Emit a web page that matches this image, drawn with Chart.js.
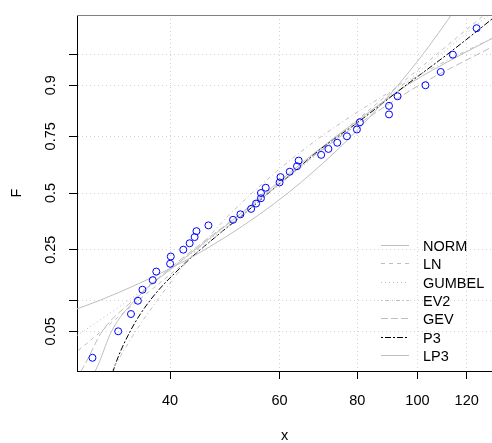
<!DOCTYPE html>
<html>
<head>
<meta charset="utf-8">
<script src="https://cdn.jsdelivr.net/npm/chart.js@4/dist/chart.umd.min.js"></script>
<style>
  html, body { margin: 0; padding: 0; background: #fff; }
  #chart { display: block; }
</style>
</head>
<body>
<canvas id="chart" width="492" height="443"></canvas>
<script>
// observed sample and its plotting positions
const obsX = [30, 33, 34.6, 35.5, 36.1, 37.5, 38, 40, 40.1, 42, 43, 43.8, 44.1, 46.1, 50.5, 51.9, 54, 55, 56, 56,
  57, 60, 60.2, 62.3, 64, 64.4, 70, 71.9, 74.3, 77, 79.9, 80.8, 90, 90, 92.9, 103, 109, 114, 124.5];
const obsF = [0.025, 0.05, 0.075, 0.1, 0.125, 0.15, 0.175, 0.2, 0.225, 0.25, 0.275, 0.3, 0.325, 0.35, 0.375,
  0.4, 0.425, 0.45, 0.475, 0.5, 0.525, 0.55, 0.575, 0.6, 0.625, 0.65, 0.675, 0.7, 0.725, 0.75, 0.775, 0.8,
  0.825, 0.85, 0.875, 0.9, 0.925, 0.95, 0.975];

// fitted curves: quantiles read at these non-exceedance probabilities
const curveF = [0.01, 0.02, 0.05, 0.1, 0.2, 0.3, 0.4, 0.5, 0.6, 0.7, 0.8, 0.9, 0.95, 0.98, 0.99];
const normX = [5.3, 11.9, 21.8, 30.7, 41.4, 49.1, 55.7, 61.9, 68.0, 74.6, 82.3, 93.0, 101.9, 111.8, 118.5];
const lnX = [24.0, 26.6, 31.0, 35.5, 42.0, 47.3, 52.4, 57.6, 63.4, 70.2, 79.1, 93.4, 107.2, 125.0, 138.5];
const gumbelX = [20.6, 23.8, 29.0, 34.2, 41.2, 46.9, 52.3, 57.7, 63.7, 70.8, 80.0, 94.7, 108.8, 127.1, 140.8];
const ev2X = [31.0, 32.6, 35.2, 38.1, 42.3, 46.1, 49.9, 54.2, 59.3, 65.8, 75.6, 94.2, 116.4, 153.1, 188.0];
const gevX = [27.6, 29.1, 31.1, 34.8, 40.8, 46.3, 51.8, 57.3, 63.2, 70.5, 81.2, 100.6, 124.7, 160.0, 190.0];
const p3X = [31.8, 32.6, 34.5, 37.1, 42.2, 47.3, 52.5, 57.6, 63.3, 69.9, 80.2, 95.8, 111.5, 131.0, 145.0];
const lp3X = [29.3, 30.6, 32.2, 35.05, 41.1, 46.6, 51.8, 56.9, 62.6, 69.6, 79.4, 96.2, 117.5, 150.0, 175.0];

const curveNames = ['NORM', 'LN', 'GUMBEL', 'EV2', 'GEV', 'P3', 'LP3'];
const curveXs = [normX, lnX, gumbelX, ev2X, gevX, p3X, lp3X];
const curveColors = ['#bebebe', '#bebebe', '#bebebe', '#bebebe', '#bebebe', '#000000', '#bebebe'];
const curveDashes = [[], [4, 4], [1, 3], [1, 3, 4, 3], [7, 3], [2, 2, 6, 2], []];

// axis ticks
const xTicks = [40, 60, 80, 100, 120];
const yTickProbs = [0.05, 0.1, 0.25, 0.5, 0.75, 0.9, 0.95];
const yTickLabels = ['0.05', '', '0.25', '0.5', '0.75', '0.9', ''];

const FONT = "'Liberation Sans', Arial, sans-serif";

// inverse standard normal (Acklam) for the probability axis
function qnorm(p) {
    const a = [-3.969683028665376e+01, 2.209460984245205e+02, -2.759285104469687e+02, 1.383577518672690e+02, -3.066479806614716e+01, 2.506628277459239e+00];
    const b = [-5.447609879822406e+01, 1.615858368580409e+02, -1.556989798598866e+02, 6.680131188771972e+01, -1.328068155288572e+01];
    const c = [-7.784894002430293e-03, -3.223964580411365e-01, -2.400758277161838e+00, -2.549732539343734e+00, 4.374664141464968e+00, 2.938163982698783e+00];
    const d = [7.784695709041462e-03, 3.224671290700398e-01, 2.445134137142996e+00, 3.754408661907416e+00];
    const pl = 0.02425;
    let q, r;
    if (p < pl) {
        q = Math.sqrt(-2 * Math.log(p));
        return (((((c[0] * q + c[1]) * q + c[2]) * q + c[3]) * q + c[4]) * q + c[5]) / ((((d[0] * q + d[1]) * q + d[2]) * q + d[3]) * q + 1);
    }
    if (p > 1 - pl) {
        q = Math.sqrt(-2 * Math.log(1 - p));
        return -(((((c[0] * q + c[1]) * q + c[2]) * q + c[3]) * q + c[4]) * q + c[5]) / ((((d[0] * q + d[1]) * q + d[2]) * q + d[3]) * q + 1);
    }
    q = p - 0.5;
    r = q * q;
    return (((((a[0] * r + a[1]) * r + a[2]) * r + a[3]) * r + a[4]) * r + a[5]) * q / (((((b[0] * r + b[1]) * r + b[2]) * r + b[3]) * r + b[4]) * r + 1);
}

const curveSets = curveNames.map((name, i) => ({
    type: 'line',
    label: name,
    data: curveXs[i].map((x, j) => ({ x: x, y: qnorm(curveF[j]) })),
    borderColor: curveColors[i],
    borderDash: curveDashes[i],
    borderWidth: 1,
    pointRadius: 0,
    showLine: true,
    fill: false,
    cubicInterpolationMode: 'monotone',
    order: 2
}));

const pointSet = {
    type: 'scatter',
    label: 'obs',
    data: obsX.map((x, i) => ({ x: x, y: qnorm(obsF[i]) })),
    pointStyle: 'circle',
    pointRadius: 3.5,
    pointBorderWidth: 1,
    pointBorderColor: '#0000ff',
    pointBackgroundColor: 'rgba(0,0,0,0)',
    showLine: false,
    order: 1
};

// top frame line and the line-style legend
const framePlugin = {
    id: 'frameAndLegend',
    afterDraw(chart) {
        const ctx = chart.ctx;
        const area = chart.chartArea;
        ctx.save();
        ctx.strokeStyle = '#808080';
        ctx.lineWidth = 1;
        ctx.beginPath();
        ctx.moveTo(area.left, Math.round(area.top) + 0.5);
        ctx.lineTo(area.right, Math.round(area.top) + 0.5);
        ctx.stroke();

        const x0 = area.right - 111;
        const y0 = area.bottom - 126;
        ctx.font = '14.5px ' + FONT;
        ctx.textBaseline = 'middle';
        ctx.textAlign = 'left';
        curveNames.forEach((name, i) => {
            const y = Math.round(y0 + i * 18.3) + 0.5;
            ctx.strokeStyle = curveColors[i];
            ctx.setLineDash(curveDashes[i]);
            ctx.beginPath();
            ctx.moveTo(x0, y);
            ctx.lineTo(x0 + 28, y);
            ctx.stroke();
            ctx.setLineDash([]);
            ctx.fillStyle = '#000';
            ctx.fillText(name, x0 + 42, y + 1);
        });
        ctx.restore();
    }
};

const chart = new Chart(document.getElementById('chart').getContext('2d'), {
    type: 'scatter',
    data: { datasets: [pointSet, ...curveSets] },
    options: {
        responsive: false,
        animation: false,
        devicePixelRatio: 1,
        layout: { autoPadding: false, padding: { top: 15, right: 0, left: 0, bottom: 0 } },
        plugins: {
            legend: { display: false },
            tooltip: { enabled: false }
        },
        scales: {
            x: {
                type: 'logarithmic',
                min: 28.33,
                max: 131.8,
                afterBuildTicks: (scale) => { scale.ticks = xTicks.map(v => ({ value: v })); },
                afterFit: (scale) => {
                    scale.height = 72;
                    scale.paddingLeft = 0;
                    scale.paddingRight = 0;
                },
                ticks: {
                    autoSkip: false,
                    maxRotation: 0,
                    padding: 13,
                    color: '#000',
                    font: { family: FONT, size: 14.5 },
                    callback: (v) => String(v)
                },
                grid: {
                    color: '#d3d3d3',
                    tickColor: '#000',
                    tickLength: 8,
                    lineWidth: 1
                },
                border: { display: true, color: '#000', width: 1, dash: [1, 3] },
                title: {
                    display: true,
                    text: 'x',
                    color: '#000',
                    font: { family: FONT, size: 14.5 },
                    padding: { top: 0, bottom: -2 }
                }
            },
            y: {
                type: 'linear',
                min: -2.117,
                max: 2.117,
                afterBuildTicks: (scale) => { scale.ticks = yTickProbs.map(p => ({ value: qnorm(p) })); },
                afterFit: (scale) => {
                    scale.width = 77;
                    scale.paddingTop = 0;
                    scale.paddingBottom = 0;
                },
                ticks: {
                    autoSkip: false,
                    minRotation: 90,
                    maxRotation: 90,
                    crossAlign: 'center',
                    padding: 4,
                    color: '#000',
                    font: { family: FONT, size: 14.5 },
                    callback: (v, i) => yTickLabels[i]
                },
                grid: {
                    color: '#d3d3d3',
                    tickColor: '#000',
                    tickLength: 8,
                    lineWidth: 1
                },
                border: { display: true, color: '#000', width: 1, dash: [1, 3] },
                title: {
                    display: true,
                    text: 'F',
                    color: '#000',
                    font: { family: FONT, size: 14.5 },
                    padding: { top: 8, bottom: 0 }
                }
            }
        }
    },
    plugins: [framePlugin]
});
</script>
</body>
</html>
